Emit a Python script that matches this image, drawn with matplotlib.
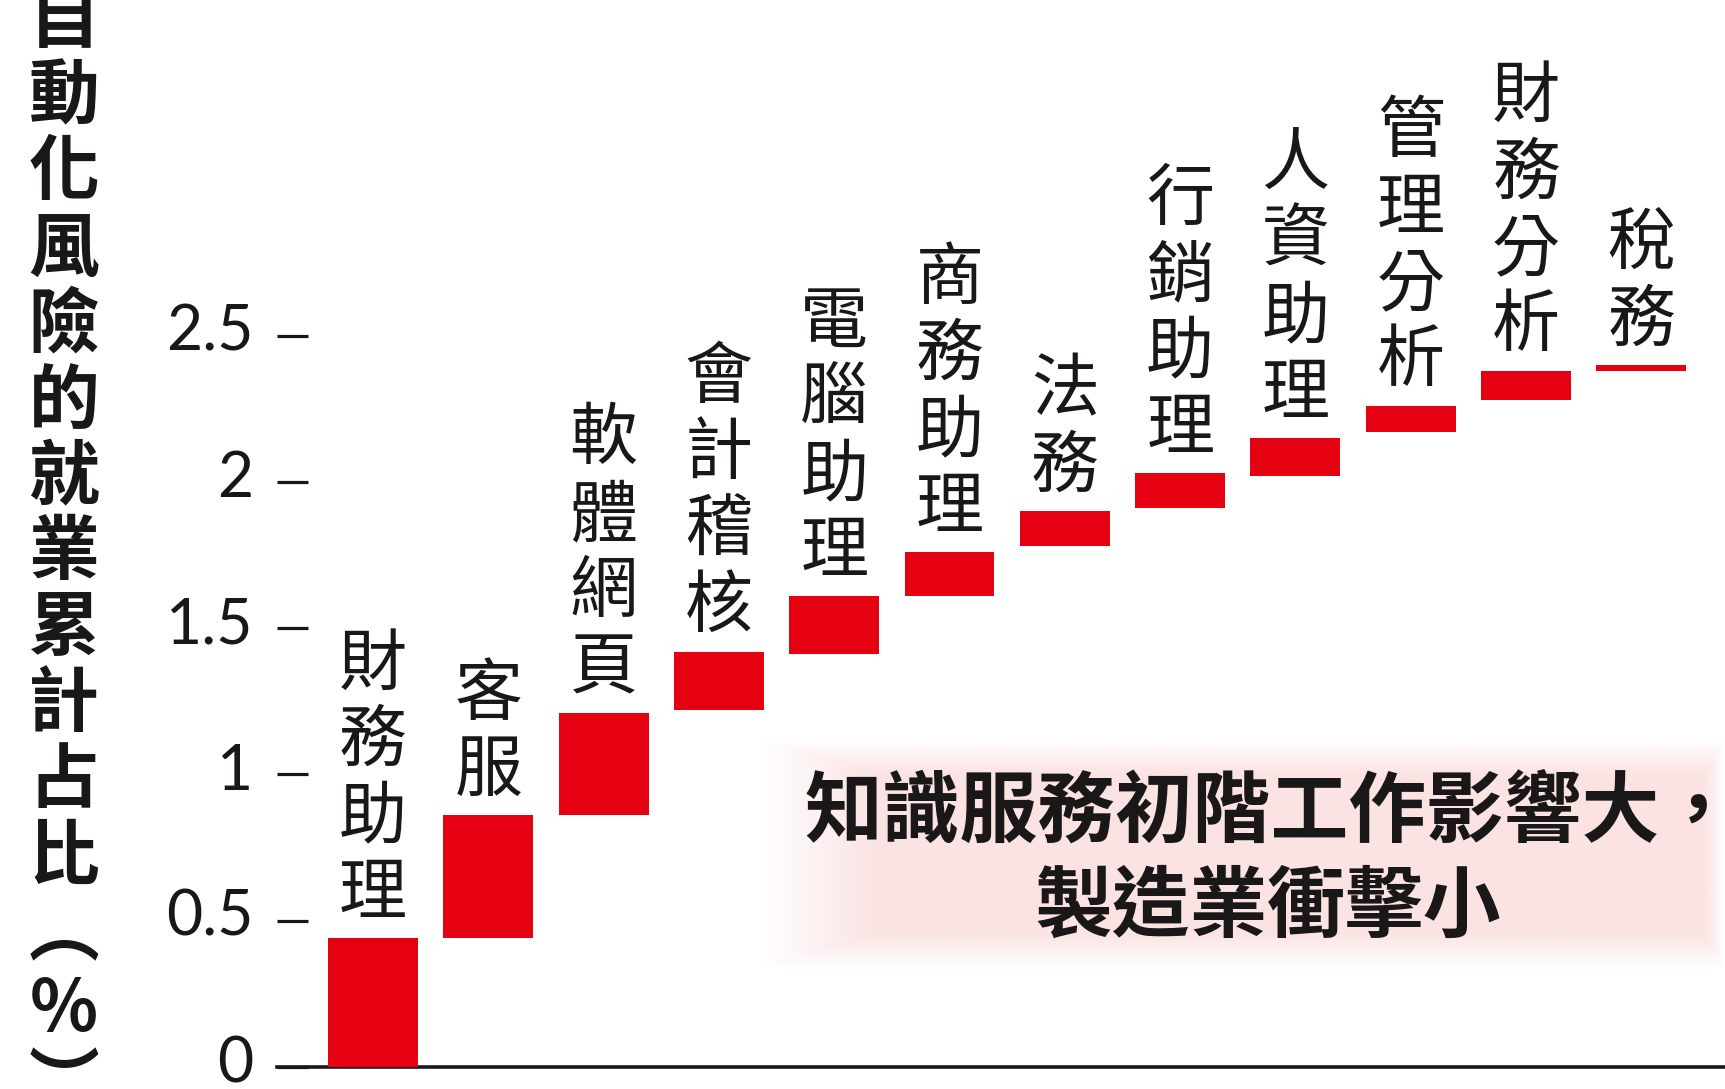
import numpy as np
import matplotlib
matplotlib.use("Agg")
import matplotlib.pyplot as plt

plt.rcParams['font.family'] = ['Noto Sans CJK TC', 'DejaVu Sans']

# job categories, left to right
jobs = ['財務助理', '客服', '軟體網頁', '會計稽核', '電腦助理', '商務助理',
        '法務', '行銷助理', '人資助理', '管理分析', '財務分析', '稅務']
# cumulative employment share at risk (%): where each step starts and ends
start = [0, 0.44, 0.86, 1.22, 1.41, 1.61, 1.78, 1.91, 2.02, 2.17, 2.28, 2.38]
end = [0.44, 0.86, 1.21, 1.42, 1.61, 1.76, 1.90, 2.03, 2.15, 2.26, 2.38, 2.40]
yticks = [0, 0.5, 1, 1.5, 2, 2.5]
ytick_labels = ['0', '0.5', '1', '1.5', '2', '2.5']
ylabel = '自動化風險的就業累計占比︵%︶'
note = ['知識服務初階工作影響大，', '製造業衝擊小']

red = '#e50012'
ink = '#1a1718'

fig = plt.figure(figsize=(17.25, 10.89), dpi=100)
ax = fig.add_axes([0.1607, 0.0202, 0.8393, 0.9798])
ax.set_facecolor('none')

x = np.arange(len(jobs))
heights = np.array(end) - np.array(start)
ax.bar(x, heights, bottom=start, width=0.78, color=red, zorder=3)

# stacked vertical labels sitting on top of each step
for i, name in enumerate(jobs):
    n = len(name)
    for k, ch in enumerate(name):
        ax.annotate(ch, xy=(x[i], end[i]), xytext=(0, 6 + (n - 1 - k) * 55),
                    textcoords='offset points', ha='center', va='bottom',
                    fontsize=49, color=ink, zorder=4)

# soft pink panel behind the note
h, w = 120, 500
yy = np.linspace(0, 1, h)[:, None]
xx = np.linspace(0, 1, w)[None, :]
edge = np.minimum(np.minimum(xx / 0.12, (1 - xx) / 0.02),
                  np.minimum(yy / 0.15, (1 - yy) / 0.15))
img = np.zeros((h, w, 4))
img[..., 0] = 251 / 255
img[..., 1] = 227 / 255
img[..., 2] = 227 / 255
img[..., 3] = np.clip(edge, 0, 1)
ax.imshow(img, extent=(0.333, 1.0, 0.093, 0.307), transform=ax.transAxes,
          aspect='auto', zorder=1)

fig.text(0.737, 0.2525, note[0], ha='center', va='center', fontsize=56,
         fontweight='heavy', color=ink)
fig.text(0.735, 0.1666, note[1], ha='center', va='center', fontsize=56,
         fontweight='heavy', color=ink)

# y label, one character per row
for k, ch in enumerate(ylabel):
    fig.text(0.037, 1 - (21.5 + 76 * k) / 1089, ch, ha='center', va='center',
             fontsize=51, fontweight='heavy', color=ink)

ax.set_xlim(-0.83, 11.725)
ax.set_ylim(0, 3.647)
ax.set_xticks([])
ax.set_yticks(yticks)
ax.set_yticklabels([])
ax.tick_params(axis='y', direction='in', length=22, width=2.3, color=ink)

# tick labels drawn by hand so they can sit just left of the marks
for v, s in zip(yticks, ytick_labels):
    ax.annotate(s, xy=(0, v), xycoords=ax.get_yaxis_transform(),
                xytext=(-17, 2), textcoords='offset points', ha='right',
                va='center', fontsize=45, fontfamily='Lato', color=ink)

for side in ['left', 'top', 'right']:
    ax.spines[side].set_visible(False)
ax.spines['bottom'].set_linewidth(2.6)
ax.spines['bottom'].set_color(ink)

fig.savefig('out.png', dpi=100)
